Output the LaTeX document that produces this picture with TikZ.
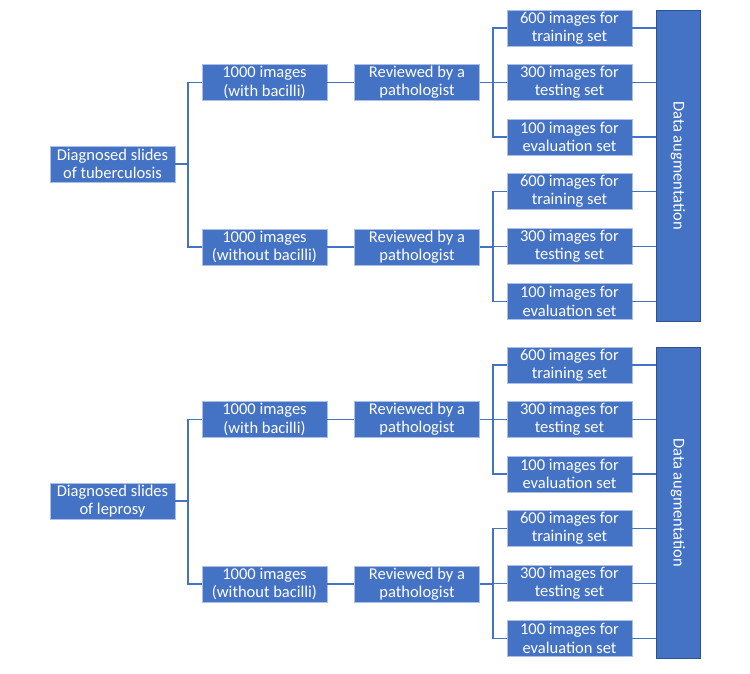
\documentclass[tikz,border=0pt]{standalone}
\usepackage{fontspec}
\setmainfont{Carlito}
\usepackage{tikz}
\usetikzlibrary{positioning,calc}
\definecolor{boxblue}{HTML}{4472C4}
\definecolor{edgeblue}{HTML}{2F528F}

\begin{document}
\begin{tikzpicture}[x=1pt,y=-1pt,
    box/.style={fill=boxblue,draw=white!55!boxblue,line width=0.8pt,text=white,
      align=center,minimum width=125,minimum height=36,inner sep=0pt,
      font=\fontsize{16.5}{18.3}\selectfont},
    link/.style={draw=boxblue,line width=1.6pt}]
  \useasboundingbox (0,0) rectangle (750,674);
  % one panel per disease
  \foreach \p/\oy/\dis in {1/0/tuberculosis,2/337/leprosy} {
    \node[box] (diag\p) at (112.5,164+\oy) {Diagnosed slides\\of \dis};
    \node[box] (with\p) at (264.5,82.5+\oy) {1000 images\\(with bacilli)};
    \node[box] (wout\p) at (264.5,247+\oy) {1000 images\\(without bacilli)};
    \node[box] (revA\p) at (417,82.5+\oy) {Reviewed by a\\pathologist};
    \node[box] (revB\p) at (417,247+\oy) {Reviewed by a\\pathologist};
    % rotated clockwise, so .south is its left side
    \node[box,draw=edgeblue,rotate=-90,minimum width=311,minimum height=44]
      (aug\p) at (678,165.5+\oy) {Data augmentation};
    \foreach \k/\yy/\num/\what in {1/28/600/training,2/82.5/300/testing,
        3/137/100/evaluation,4/191.5/600/training,5/246.5/300/testing,
        6/301.5/100/evaluation} {
      \node[box] (set\p-\k) at (569.5,\yy+\oy) {\num{} images for\\\what{} set};
      \draw[link] (set\p-\k) -- (set\p-\k.east -| aug\p.south);
    }
    % brackets
    \coordinate (fork\p) at (188,164+\oy);
    \coordinate (forkA\p) at (493,82.5+\oy);
    \coordinate (forkB\p) at (493,247+\oy);
    \draw[link] (diag\p) -- (fork\p) |- (with\p);
    \draw[link] (fork\p) |- (wout\p);
    \draw[link] (with\p) -- (revA\p);
    \draw[link] (wout\p) -- (revB\p);
    \draw[link] (revA\p) -- (forkA\p);
    \draw[link] (revB\p) -- (forkB\p);
    \foreach \k in {1,2,3}
      \draw[link] (forkA\p) |- (set\p-\k);
    \foreach \k in {4,5,6}
      \draw[link] (forkB\p) |- (set\p-\k);
  }
\end{tikzpicture}
\end{document}
